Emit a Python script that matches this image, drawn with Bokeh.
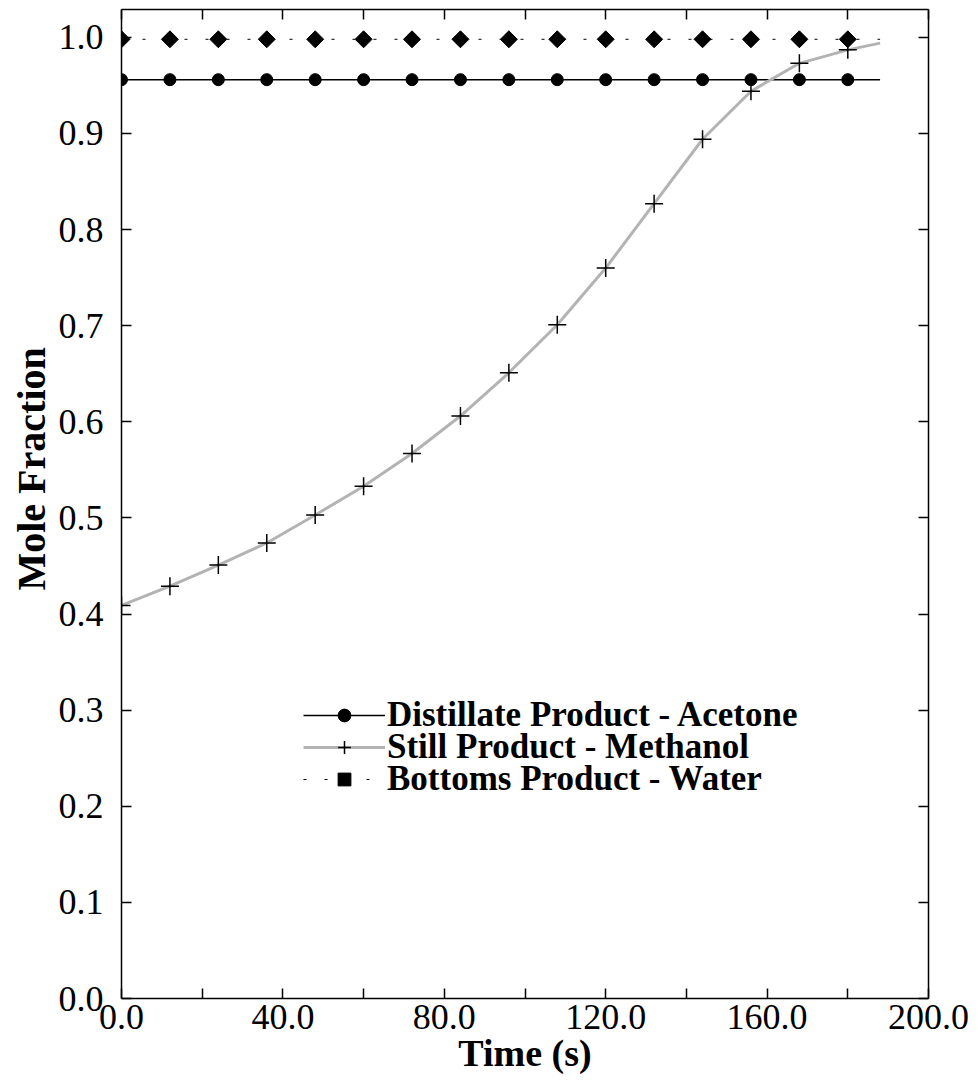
import math
from bokeh.plotting import figure
from bokeh.models import (Range1d, LinearAxis, FixedTicker, PrintfTickFormatter,
                          Legend, LegendItem, Title)
from bokeh.embed import file_html
from bokeh.resources import INLINE

# Time grid (s): samples every 12 s, curves run on to 188 s
time_s = [0, 12, 24, 36, 48, 60, 72, 84, 96, 108, 120, 132, 144, 156, 168, 180, 188]
n_markers = 16  # markers are shown at 0 ... 180 s

distillate_acetone = [0.956] * 17
still_methanol = [0.409, 0.429, 0.451, 0.474, 0.503, 0.533, 0.567, 0.606, 0.651,
                  0.701, 0.760, 0.827, 0.894, 0.944, 0.973, 0.987, 0.994]
bottoms_water = [0.998] * 17

series_names = ["Distillate Product - Acetone", "Still Product - Methanol",
                "Bottoms Product - Water"]

x_major = [0, 40, 80, 120, 160, 200]
x_minor = [20, 60, 100, 140, 180]
y_ticks = [0.0, 0.1, 0.2, 0.3, 0.4, 0.5, 0.6, 0.7, 0.8, 0.9, 1.0]

SERIF = "Liberation Serif"

p = figure(width=978, height=1082, x_range=Range1d(0, 200), y_range=Range1d(0, 1.029),
           output_backend="svg", toolbar_location=None,
           min_border_left=121, min_border_right=50, min_border_top=9, min_border_bottom=84)
p.grid.visible = False
p.outline_line_color = None
p.background_fill_color = "white"
p.border_fill_color = "white"

def style_axis(ax, major, minor):
    # every tick points inward and looks the same, labelled or not
    ax.ticker = FixedTicker(ticks=major, minor_ticks=minor)
    ax.axis_line_width = 1.5
    ax.axis_line_color = "black"
    for kind in ("major", "minor"):
        setattr(ax, f"{kind}_tick_line_width", 1.5)
        setattr(ax, f"{kind}_tick_line_color", "black")
        setattr(ax, f"{kind}_tick_in", 10)
        setattr(ax, f"{kind}_tick_out", 0)
    ax.major_label_text_font = SERIF
    ax.major_label_text_font_size = "36px"
    ax.major_label_text_color = "black"

xb = p.xaxis[0]
style_axis(xb, x_major, x_minor)
xb.formatter = PrintfTickFormatter(format="%.1f")
xb.major_label_standoff = 6
xb.axis_label = "Time (s)"
xb.axis_label_text_font = SERIF
xb.axis_label_text_font_style = "bold"
xb.axis_label_text_font_size = "38px"
xb.axis_label_text_color = "black"
xb.axis_label_standoff = 0

yl = p.yaxis[0]
style_axis(yl, y_ticks, [])
yl.formatter = PrintfTickFormatter(format="%.1f")
yl.major_label_standoff = 18

# frame box: top and right carry ticks only
xt = LinearAxis()
style_axis(xt, [], x_major + x_minor)
p.add_layout(xt, "above")
yr = LinearAxis()
style_axis(yr, [], y_ticks)
p.add_layout(yr, "right")

# y-axis title, set a little above the frame's middle
p.add_layout(Title(text="Mole Fraction", align="left", offset=408, standoff=4,
                   text_font=SERIF, text_font_style="bold",
                   text_font_size="40px", text_color="black"), "left")

t_mark = time_s[:n_markers]

d_line = p.line(time_s, distillate_acetone, line_color="black", line_width=1.5)
d_mark = p.scatter(t_mark, distillate_acetone[:n_markers], marker="circle", size=12,
                   fill_color="black", line_color="black")

s_line = p.line(time_s, still_methanol, line_color="#b3b3b3", line_width=3)
s_mark = p.scatter(t_mark, still_methanol[:n_markers], marker="cross", size=18,
                   line_color="black", line_width=1.5)

b_line = p.line(time_s, bottoms_water, line_color="black", line_width=1, line_dash="3 18")
b_mark = p.scatter(t_mark, bottoms_water[:n_markers], marker="square", size=12,
                   angle=math.pi / 4, fill_color="black", line_color="black")

# one legend per row so the rows can sit closer than the default row height
entries = [(series_names[0], [d_line, d_mark], 263),
           (series_names[1], [s_line, s_mark], 231),
           (series_names[2], [b_line, b_mark], 199)]
for name, rends, y_off in entries:
    lg = Legend(items=[LegendItem(label=name, renderers=rends)], location=(182, y_off))
    lg.glyph_width = 82
    lg.glyph_height = 32
    lg.label_height = 32
    lg.spacing = 0
    lg.padding = 0
    lg.margin = 0
    lg.label_standoff = 2
    lg.border_line_color = None
    lg.background_fill_alpha = 0
    lg.label_text_font = SERIF
    lg.label_text_font_style = "bold"
    lg.label_text_font_size = "35px"
    lg.label_text_color = "black"
    p.add_layout(lg, "center")

open("out.html", "w").write(file_html(p, INLINE))
